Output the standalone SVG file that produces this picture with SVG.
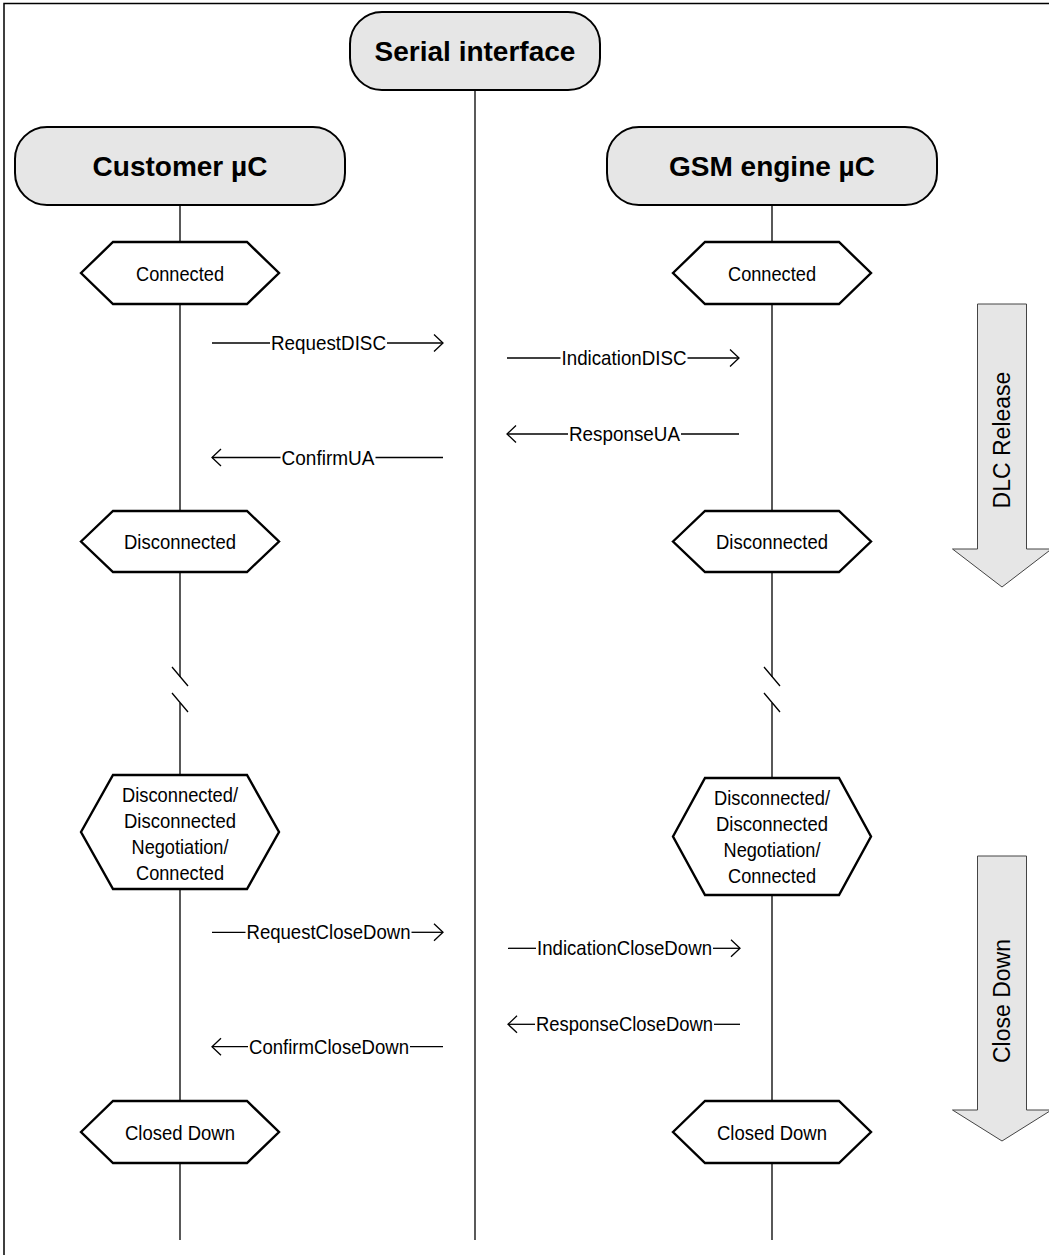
<svg xmlns="http://www.w3.org/2000/svg" width="1049" height="1255" viewBox="0 0 1049 1255">
<style>
  .hdr { fill:#e6e6e6; stroke:#000; stroke-width:2; }
  .hdrt { font-family:"Liberation Sans", Arial, sans-serif; font-weight:bold; font-size:28px; text-anchor:middle; fill:#000; }
  .hex { fill:#fff; stroke:#000; stroke-width:2.4; stroke-linejoin:miter; }
  .t { font-family:"Liberation Sans", Arial, sans-serif; font-size:21px; text-anchor:middle; fill:#000; }
  .life { stroke:#000; stroke-width:1.3; fill:none; }
  .msg { stroke:#000; stroke-width:1.3; fill:none; }
  .blk { fill:#e6e6e6; stroke:#444; stroke-width:1; }
  .bt { font-family:"Liberation Sans", Arial, sans-serif; font-size:23px; text-anchor:middle; fill:#000; }
</style>
<defs>
  <marker id="open" viewBox="0 0 12 20" markerWidth="12" markerHeight="20" refX="10.5" refY="10" orient="auto" markerUnits="userSpaceOnUse">
    <path d="M1.5,1.5 L10.5,10 L1.5,18.5" fill="none" stroke="#000" stroke-width="1.3"/>
  </marker>
</defs>
<rect width="1049" height="1255" fill="#fff"/>
<path d="M4,1255 V3.5 H1049" fill="none" stroke="#000" stroke-width="1.5"/>

<g id="connectors">
  <!-- lifelines -->
  <line class="life" x1="475" y1="90" x2="475" y2="1240"/>
  <path class="life" d="M180,205 V242 M180,304 V511 M180,572 V677 M180,703 V775 M180,889 V1101 M180,1163 V1240"/>
  <path class="life" d="M172,667 L188,686 M172,693 L188,712"/>
  <path class="life" d="M772,205 V242 M772,304 V511 M772,572 V677 M772,703 V778 M772,895 V1101 M772,1163 V1240"/>
  <path class="life" d="M764,667 L780,686 M764,693 L780,712"/>

  <!-- messages -->
  <g id="m-requestdisc">
    <line class="msg" x1="212" y1="343" x2="270" y2="343"/>
    <line class="msg" x1="387" y1="343" x2="443" y2="343" marker-end="url(#open)"/>
    <text class="t" x="328.5" y="350" textLength="115" lengthAdjust="spacingAndGlyphs">RequestDISC</text>
  </g>
  <g id="m-indicationdisc">
    <line class="msg" x1="507" y1="358" x2="560.5" y2="358"/>
    <line class="msg" x1="687.5" y1="358" x2="739" y2="358" marker-end="url(#open)"/>
    <text class="t" x="624" y="365" textLength="125" lengthAdjust="spacingAndGlyphs">IndicationDISC</text>
  </g>
  <g id="m-responseua">
    <line class="msg" x1="568" y1="434" x2="507" y2="434" marker-end="url(#open)"/>
    <line class="msg" x1="681" y1="434" x2="739" y2="434"/>
    <text class="t" x="624.5" y="441" textLength="111" lengthAdjust="spacingAndGlyphs">ResponseUA</text>
  </g>
  <g id="m-confirmua">
    <line class="msg" x1="280.5" y1="457.5" x2="212" y2="457.5" marker-end="url(#open)"/>
    <line class="msg" x1="375.5" y1="457.5" x2="443" y2="457.5"/>
    <text class="t" x="328" y="464.5" textLength="93" lengthAdjust="spacingAndGlyphs">ConfirmUA</text>
  </g>
  <g id="m-requestclosedown">
    <line class="msg" x1="212" y1="932.3" x2="245.5" y2="932.3"/>
    <line class="msg" x1="411.5" y1="932.3" x2="443" y2="932.3" marker-end="url(#open)"/>
    <text class="t" x="328.5" y="939.3" textLength="164" lengthAdjust="spacingAndGlyphs">RequestCloseDown</text>
  </g>
  <g id="m-indicationclosedown">
    <line class="msg" x1="508" y1="948.3" x2="536" y2="948.3"/>
    <line class="msg" x1="713" y1="948.3" x2="740" y2="948.3" marker-end="url(#open)"/>
    <text class="t" x="624.5" y="955.3" textLength="175" lengthAdjust="spacingAndGlyphs">IndicationCloseDown</text>
  </g>
  <g id="m-responseclosedown">
    <line class="msg" x1="535" y1="1024.3" x2="508" y2="1024.3" marker-end="url(#open)"/>
    <line class="msg" x1="714" y1="1024.3" x2="740" y2="1024.3"/>
    <text class="t" x="624.5" y="1031.3" textLength="177" lengthAdjust="spacingAndGlyphs">ResponseCloseDown</text>
  </g>
  <g id="m-confirmclosedown">
    <line class="msg" x1="248" y1="1046.7" x2="212" y2="1046.7" marker-end="url(#open)"/>
    <line class="msg" x1="410" y1="1046.7" x2="443" y2="1046.7"/>
    <text class="t" x="329" y="1053.7" textLength="160" lengthAdjust="spacingAndGlyphs">ConfirmCloseDown</text>
  </g>
</g>

<g id="serial-interface">
  <rect class="hdr" x="350" y="12" width="250" height="78" rx="32" ry="32"/>
  <text class="hdrt" x="475" y="61">Serial interface</text>
</g>
<g id="customer-uc">
  <rect class="hdr" x="15" y="127" width="330" height="78" rx="32" ry="32"/>
  <text class="hdrt" x="180" y="176">Customer µC</text>
</g>
<g id="gsm-engine-uc">
  <rect class="hdr" x="607" y="127" width="330" height="78" rx="32" ry="32"/>
  <text class="hdrt" x="772" y="176">GSM engine µC</text>
</g>

<g id="c-connected">
  <polygon class="hex" points="81,273 113,242 247,242 279,273 247,304 113,304"/>
  <text class="t" x="180" y="280.5" textLength="88" lengthAdjust="spacingAndGlyphs">Connected</text>
</g>
<g id="g-connected">
  <polygon class="hex" points="673,273 705,242 839,242 871,273 839,304 705,304"/>
  <text class="t" x="772" y="280.5" textLength="88" lengthAdjust="spacingAndGlyphs">Connected</text>
</g>
<g id="c-disconnected">
  <polygon class="hex" points="81,541.5 113,511 247,511 279,541.5 247,572 113,572"/>
  <text class="t" x="180" y="549" textLength="112" lengthAdjust="spacingAndGlyphs">Disconnected</text>
</g>
<g id="g-disconnected">
  <polygon class="hex" points="673,541.5 705,511 839,511 871,541.5 839,572 705,572"/>
  <text class="t" x="772" y="549" textLength="112" lengthAdjust="spacingAndGlyphs">Disconnected</text>
</g>
<g id="c-multistate">
  <polygon class="hex" points="81,832 113,775 247,775 279,832 247,889 113,889"/>
  <text class="t" x="180" y="801.5" textLength="116" lengthAdjust="spacingAndGlyphs">Disconnected/</text>
  <text class="t" x="180" y="827.5" textLength="112" lengthAdjust="spacingAndGlyphs">Disconnected</text>
  <text class="t" x="180" y="853.5" textLength="97" lengthAdjust="spacingAndGlyphs">Negotiation/</text>
  <text class="t" x="180" y="879.5" textLength="88" lengthAdjust="spacingAndGlyphs">Connected</text>
</g>
<g id="g-multistate">
  <polygon class="hex" points="673,836.5 705,778 839,778 871,836.5 839,895 705,895"/>
  <text class="t" x="772" y="805" textLength="116" lengthAdjust="spacingAndGlyphs">Disconnected/</text>
  <text class="t" x="772" y="831" textLength="112" lengthAdjust="spacingAndGlyphs">Disconnected</text>
  <text class="t" x="772" y="857" textLength="97" lengthAdjust="spacingAndGlyphs">Negotiation/</text>
  <text class="t" x="772" y="883" textLength="88" lengthAdjust="spacingAndGlyphs">Connected</text>
</g>
<g id="c-closeddown">
  <polygon class="hex" points="81,1132 113,1101 247,1101 279,1132 247,1163 113,1163"/>
  <text class="t" x="180" y="1139.5" textLength="110" lengthAdjust="spacingAndGlyphs">Closed Down</text>
</g>
<g id="g-closeddown">
  <polygon class="hex" points="673,1132 705,1101 839,1101 871,1132 839,1163 705,1163"/>
  <text class="t" x="772" y="1139.5" textLength="110" lengthAdjust="spacingAndGlyphs">Closed Down</text>
</g>

<g id="dlc-release">
  <path class="blk" d="M977.5,304 H1026.5 V549 H1051.5 L1002,587 L952.5,549 H977.5 Z"/>
  <text class="bt" transform="translate(1010,440) rotate(-90)">DLC Release</text>
</g>
<g id="close-down">
  <path class="blk" d="M977.5,856 H1026.5 V1110 H1051.5 L1002,1141 L952.5,1110 H977.5 Z"/>
  <text class="bt" transform="translate(1010,1001) rotate(-90)">Close Down</text>
</g>
</svg>
